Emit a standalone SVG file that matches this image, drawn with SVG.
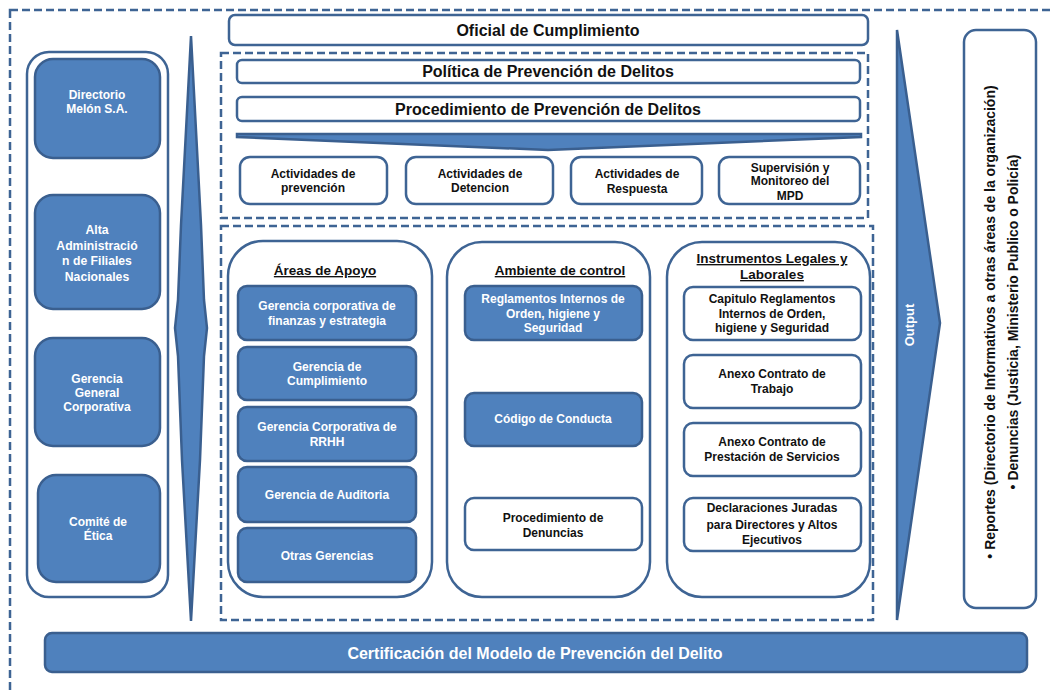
<svg xmlns="http://www.w3.org/2000/svg" width="1050" height="692" viewBox="0 0 1050 692">
<style>
text{font-family:"Liberation Sans",Arial,sans-serif;font-weight:bold;text-anchor:middle}
.dash{fill:none;stroke:#3E6494;stroke-width:2.5;stroke-dasharray:8 4}
.w{fill:#fff;stroke:#3E6494;stroke-width:2.5}
.b{fill:#4F81BD;stroke:#3A5F8F;stroke-width:2.5}
.wt{fill:#fff;font-size:12px}
.kt{fill:#111;font-size:12px}
.tt{fill:#111;font-size:16px}
.rt{fill:#111;font-size:14px}
.ul{fill:#111;font-size:13.5px;text-decoration:underline}
.big{font-size:12.2px}
</style>
<rect width="1050" height="692" fill="#fff"/>
<g id="frames">
<rect class="dash" x="10" y="10" width="1060" height="720"/>
<rect class="dash" x="221" y="53" width="647" height="165"/>
<rect class="dash" x="221" y="226" width="652" height="394"/>
</g>
<g id="connectors">
<polygon class="b" stroke-width="2" points="191,36 181,225 178,300 175,328 178,356 182,460 191,621 200,460 204,356 207,328 204,300 201,225"/>
<polygon class="b" stroke-width="2" points="237,134 861,134 861,137 548,150 237,137"/>
<polygon class="b" stroke-width="2" points="897,30 940,323 897,620"/>
<text class="wt" style="font-size:13px" transform="translate(914,325) rotate(-90)">Output</text>
</g>
<g id="oficial"><rect class="w" x="229" y="15" width="639" height="30" rx="6"/><text class="tt" x="548" y="36">Oficial de Cumplimiento</text></g>
<g id="politica"><rect class="w" x="237" y="60" width="623" height="23" rx="5"/><text class="tt" x="548" y="77">Política de Prevención de Delitos</text></g>
<g id="procedimiento"><rect class="w" x="237" y="97" width="623" height="24" rx="5"/><text class="tt" x="548" y="115">Procedimiento de Prevención de Delitos</text></g>
<g id="act1"><rect class="w" x="240" y="157" width="147" height="47" rx="10"/><text class="kt" x="313" y="178">Actividades de</text><text class="kt" x="313" y="192">prevención</text></g>
<g id="act2"><rect class="w" x="406" y="157" width="147" height="47" rx="10"/><text class="kt" x="480" y="178">Actividades de</text><text class="kt" x="480" y="192">Detencion</text></g>
<g id="act3"><rect class="w" x="571" y="157" width="131" height="47" rx="10"/><text class="kt" x="637" y="178">Actividades de</text><text class="kt" x="637" y="193">Respuesta</text></g>
<g id="act4"><rect class="w" x="719" y="157" width="141" height="47" rx="10"/><text class="kt" x="790" y="172">Supervisión y</text><text class="kt" x="790" y="185">Monitoreo del</text><text class="kt" x="790" y="200">MPD</text></g>
<g id="leftcol"><rect class="w" x="27" y="52" width="141" height="545" rx="22"/></g>
<g id="directorio"><rect class="b" x="35" y="59" width="125" height="99" rx="18"/><text class="wt" x="97" y="99">Directorio</text><text class="wt" x="97" y="113">Melón S.A.</text></g>
<g id="alta"><rect class="b" x="35" y="195" width="125" height="114" rx="18"/><text class="wt big" x="97" y="234">Alta</text><text class="wt big" x="97" y="250">Administració</text><text class="wt big" x="97" y="265">n de Filiales</text><text class="wt big" x="97" y="281">Nacionales</text></g>
<g id="gerencia-general"><rect class="b" x="35" y="338" width="125" height="108" rx="18"/><text class="wt" x="97" y="383">Gerencia</text><text class="wt" x="97" y="397">General</text><text class="wt" x="97" y="411">Corporativa</text></g>
<g id="comite"><rect class="b" x="38" y="475" width="122" height="107" rx="18"/><text class="wt" x="98" y="526">Comité de</text><text class="wt" x="98" y="540">Ética</text></g>
<g id="areas"><rect class="w" x="228" y="241" width="204" height="356" rx="35"/><text class="ul" x="325" y="275">Áreas de Apoyo</text></g>
<g id="g-finanzas"><rect class="b" x="238" y="286" width="178" height="54" rx="9"/><text class="wt" x="327" y="310">Gerencia corporativa de</text><text class="wt" x="327" y="325">finanzas y estrategia</text></g>
<g id="g-cumplimiento"><rect class="b" x="238" y="347" width="178" height="53" rx="9"/><text class="wt" x="327" y="371">Gerencia de</text><text class="wt" x="327" y="385">Cumplimiento</text></g>
<g id="g-rrhh"><rect class="b" x="238" y="407" width="178" height="54" rx="9"/><text class="wt" x="327" y="431">Gerencia  Corporativa de</text><text class="wt" x="327" y="446">RRHH</text></g>
<g id="g-auditoria"><rect class="b" x="238" y="467" width="178" height="55" rx="9"/><text class="wt" x="327" y="499">Gerencia de Auditoria</text></g>
<g id="g-otras"><rect class="b" x="238" y="528" width="178" height="54" rx="9"/><text class="wt" x="327" y="560">Otras Gerencias</text></g>
<g id="ambiente"><rect class="w" x="447" y="242" width="203" height="355" rx="35"/><text class="ul" x="560" y="275">Ambiente de control</text></g>
<g id="reglamentos"><rect class="b" x="465" y="286" width="177" height="54" rx="9"/><text class="wt" x="553" y="303">Reglamentos Internos de</text><text class="wt" x="553" y="318">Orden, higiene y</text><text class="wt" x="553" y="332">Seguridad</text></g>
<g id="codigo"><rect class="b" x="465" y="393" width="177" height="53" rx="9"/><text class="wt" x="553" y="423">Código de Conducta</text></g>
<g id="denuncias"><rect class="w" x="465" y="498" width="177" height="52" rx="9"/><text class="kt" x="553" y="522">Procedimiento de</text><text class="kt" x="553" y="537">Denuncias</text></g>
<g id="instrumentos"><rect class="w" x="667" y="242" width="203" height="355" rx="35"/><text class="ul" x="772" y="263">Instrumentos Legales y</text><text class="ul" x="772" y="279">Laborales</text></g>
<g id="capitulo"><rect class="w" x="684" y="287" width="177" height="53" rx="9"/><text class="kt" x="772" y="303">Capitulo Reglamentos</text><text class="kt" x="772" y="318">Internos de Orden,</text><text class="kt" x="772" y="332">higiene y Seguridad</text></g>
<g id="trabajo"><rect class="w" x="684" y="355" width="177" height="53" rx="9"/><text class="kt" x="772" y="378">Anexo Contrato de</text><text class="kt" x="772" y="393">Trabajo</text></g>
<g id="servicios"><rect class="w" x="684" y="423" width="177" height="53" rx="9"/><text class="kt" x="772" y="446">Anexo Contrato de</text><text class="kt" x="772" y="461">Prestación de Servicios</text></g>
<g id="declaraciones"><rect class="w" x="684" y="498" width="177" height="53" rx="9"/><text class="kt" x="772" y="512">Declaraciones Juradas</text><text class="kt" x="772" y="529">para Directores y Altos</text><text class="kt" x="772" y="544">Ejecutivos</text></g>
<g id="reportes"><rect class="w" x="964" y="30" width="72" height="578" rx="12"/><text class="rt" transform="translate(995,322) rotate(-90)">• Reportes (Directorio de Informativos a otras áreas de la organización)</text><text class="rt" transform="translate(1018,322) rotate(-90)">• Denuncias (Justicia, Ministerio Publico o Policía)</text></g>
<g id="certificacion"><rect class="b" x="45" y="633" width="982" height="39" rx="7"/><text class="wt" style="font-size:16px" x="535" y="659">Certificación del Modelo de Prevención del Delito</text></g>
</svg>
